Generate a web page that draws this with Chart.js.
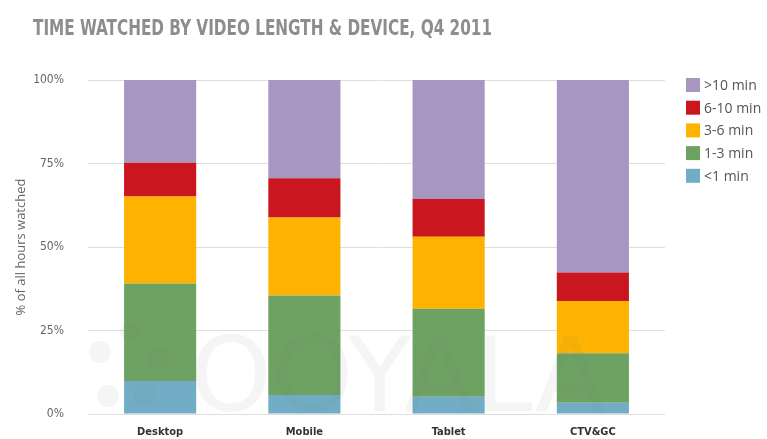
<!DOCTYPE html>
<html>
<head>
<meta charset="utf-8">
<script src="https://cdn.jsdelivr.net/npm/chart.js@4.4.1/dist/chart.umd.min.js"></script>
<style>
  html, body { margin: 0; padding: 0; background: #fff; overflow: hidden; }
  canvas { display: block; }
</style>
</head>
<body>
<canvas id="chart" width="767" height="439"></canvas>
<script>
const devices = ["Desktop", "Mobile", "Tablet", "CTV&GC"];

// share of hours watched per length bucket, bottom to top
const under1 = [9.9, 5.7, 5.2, 3.4];
const min1to3 = [29.2, 29.8, 26.3, 14.8];
const min3to6 = [26.0, 23.3, 21.6, 15.6];
const min6to10 = [10.1, 11.8, 11.3, 8.6];
const over10 = [24.8, 29.4, 35.6, 57.6];

const lengthLabels = ["<1 min", "1-3 min", "3-6 min", "6-10 min", ">10 min"];
const yTicks = [0, 25, 50, 75, 100];

const colors = ["#71aec6", "#6ea263", "#fdb300", "#c9161f", "#a795c2"];

const headline = "TIME WATCHED BY VIDEO LENGTH & DEVICE, Q4 2011";

const series = [under1, min1to3, min3to6, min6to10, over10];

// title, watermark and legend drawn straight onto the canvas
const extras = {
  id: "extras",
  afterDatasetsDraw(chart) {
    const ctx = chart.ctx;
    ctx.save();
    ctx.fillStyle = "rgba(120,120,120,0.07)";
    ctx.font = "104px 'DejaVu Sans'";
    ctx.textBaseline = "alphabetic";
    ctx.fillText("OOYALA", 190, 411);
    [[100, 352, 11], [130, 332, 10], [158, 358, 11], [108, 396, 11], [145, 395, 11]].forEach(d => {
      ctx.beginPath();
      ctx.arc(d[0], d[1], d[2], 0, Math.PI * 2);
      ctx.fill();
    });
    ctx.restore();
  },
  afterDraw(chart) {
    const ctx = chart.ctx;
    ctx.save();
    // headline
    ctx.fillStyle = "#8d8d8d";
    ctx.font = "bold 21px 'DejaVu Sans Condensed'";
    ctx.textBaseline = "middle";
    const w = ctx.measureText(headline).width;
    ctx.translate(33, 30);
    ctx.scale(459 / w, 1);
    ctx.fillText(headline, 0, 0);
    ctx.restore();

    // legend, longest bucket first
    ctx.save();
    ctx.font = "14px 'Open Sans'";
    ctx.textBaseline = "middle";
    for (let i = 0; i < lengthLabels.length; i++) {
      const k = lengthLabels.length - 1 - i;
      const y = 85 + i * 22.7;
      ctx.fillStyle = colors[k];
      ctx.fillRect(686, y - 7, 14, 14);
      ctx.fillStyle = "#555";
      ctx.fillText(lengthLabels[k], 704, y + 1);
    }
    ctx.restore();
  }
};

const ctx = document.getElementById("chart").getContext("2d");

const chart = new Chart(ctx, {
  type: "bar",
  data: {
    labels: devices,
    datasets: series.map((vals, i) => ({
      label: lengthLabels[i],
      data: vals,
      backgroundColor: colors[i],
      borderWidth: 0,
      barPercentage: 0.5,
      categoryPercentage: 1
    }))
  },
  options: {
    responsive: false,
    animation: false,
    layout: { padding: { top: 80, right: 102, left: 0, bottom: 0 } },
    plugins: {
      legend: { display: false },
      tooltip: { enabled: false }
    },
    scales: {
      x: {
        stacked: true,
        grid: { display: false, drawTicks: false },
        border: { display: false },
        ticks: {
          padding: 12,
          color: "#333",
          font: { family: "'DejaVu Sans Condensed'", size: 11, weight: "bold" }
        },
        afterFit: s => { s.height = 25; }
      },
      y: {
        stacked: true,
        min: 0,
        max: 100,
        afterBuildTicks: s => { s.ticks = yTicks.map(v => ({ value: v })); },
        // invisible tick marks keep the labels clear of the plot
        grid: { color: "#dedede", lineWidth: 1, drawTicks: true, tickLength: 23, tickColor: "rgba(0,0,0,0)" },
        border: { display: false },
        ticks: {
          padding: 1,
          color: "#666",
          font: { family: "'DejaVu Sans Condensed'", size: 12 },
          callback: v => v + "%"
        },
        title: {
          display: true,
          text: "% of all hours watched",
          color: "#666",
          font: { family: "'Open Sans'", size: 13 },
          padding: { top: 13, bottom: 0 }
        },
        afterFit: s => { s.width = 88; }
      }
    }
  },
  plugins: [extras]
});
</script>
</body>
</html>
